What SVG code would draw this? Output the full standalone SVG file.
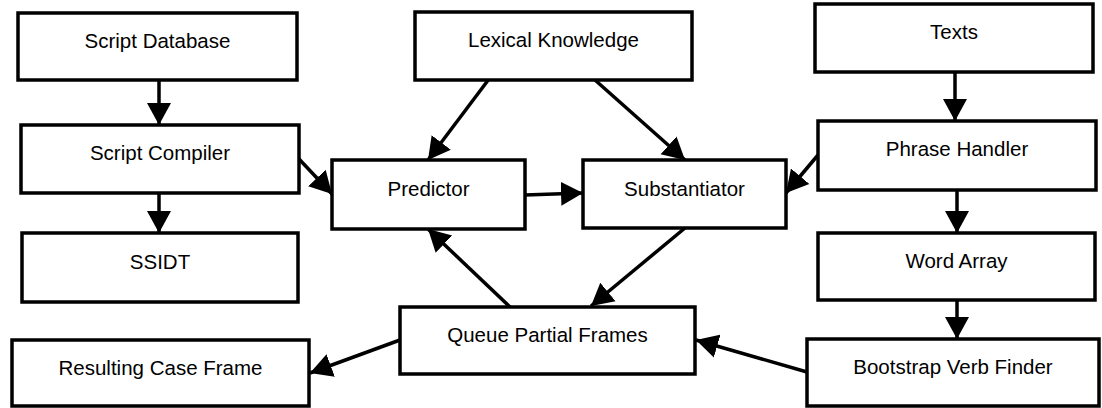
<svg xmlns="http://www.w3.org/2000/svg" width="1102" height="408" viewBox="0 0 1102 408">
<style>
.box{fill:#fff;stroke:#000;stroke-width:3.5}
.lbl{font-family:"Liberation Sans",Arial,Helvetica,sans-serif;font-size:20.5px;fill:#000;text-anchor:middle}
.edge{stroke:#000;stroke-width:3.5;fill:none;marker-end:url(#arr)}
</style>
<defs>
<marker id="arr" markerUnits="userSpaceOnUse" markerWidth="24" markerHeight="26" refX="22" refY="12" orient="auto" viewBox="0 0 24 24">
<path d="M0,0 L22,12 L0,24 z" fill="#000"/>
</marker>
</defs>
<rect width="1102" height="408" fill="#fff"/>
<g id="connectors">
<line class="edge" x1="159" y1="80" x2="159" y2="125"/>
<line class="edge" x1="159" y1="193" x2="159" y2="233"/>
<line class="edge" x1="299" y1="159" x2="332" y2="194"/>
<line class="edge" x1="489" y1="79" x2="428" y2="160"/>
<line class="edge" x1="595" y1="80" x2="685" y2="160"/>
<line class="edge" x1="525" y1="195" x2="583" y2="193"/>
<line class="edge" x1="818" y1="155" x2="786" y2="193"/>
<line class="edge" x1="955" y1="72" x2="955" y2="121"/>
<line class="edge" x1="957" y1="190" x2="957" y2="233"/>
<line class="edge" x1="957" y1="300" x2="957" y2="339"/>
<line class="edge" x1="807" y1="372" x2="696" y2="340"/>
<line class="edge" x1="400" y1="340" x2="310" y2="373"/>
<line class="edge" x1="510" y1="307" x2="428" y2="229"/>
<line class="edge" x1="685" y1="228" x2="591" y2="306"/>
</g>
<g id="script-database"><rect class="box" x="18" y="13" width="279" height="67"/><text class="lbl" x="157.5" y="48">Script Database</text></g>
<g id="lexical-knowledge"><rect class="box" x="415" y="12" width="277" height="68"/><text class="lbl" x="553.5" y="47">Lexical Knowledge</text></g>
<g id="texts"><rect class="box" x="815" y="4" width="278" height="68"/><text class="lbl" x="954" y="39">Texts</text></g>
<g id="script-compiler"><rect class="box" x="21" y="125" width="278" height="68"/><text class="lbl" x="160" y="160">Script Compiler</text></g>
<g id="predictor"><rect class="box" x="332" y="160" width="193" height="69"/><text class="lbl" x="428.5" y="196">Predictor</text></g>
<g id="substantiator"><rect class="box" x="583" y="160" width="203" height="68"/><text class="lbl" x="684.5" y="196">Substantiator</text></g>
<g id="phrase-handler"><rect class="box" x="818" y="121" width="278" height="69"/><text class="lbl" x="957" y="156">Phrase Handler</text></g>
<g id="ssidt"><rect class="box" x="22" y="233" width="276" height="69"/><text class="lbl" x="160" y="269">SSIDT</text></g>
<g id="word-array"><rect class="box" x="818" y="233" width="277" height="67"/><text class="lbl" x="956.5" y="268">Word Array</text></g>
<g id="queue-partial-frames"><rect class="box" x="400" y="307" width="295" height="67"/><text class="lbl" x="547.5" y="342">Queue Partial Frames</text></g>
<g id="resulting-case-frame"><rect class="box" x="12" y="340" width="297" height="66"/><text class="lbl" x="160.5" y="375">Resulting Case Frame</text></g>
<g id="bootstrap-verb-finder"><rect class="box" x="807" y="339" width="292" height="67"/><text class="lbl" x="953" y="374">Bootstrap Verb Finder</text></g>
</svg>
